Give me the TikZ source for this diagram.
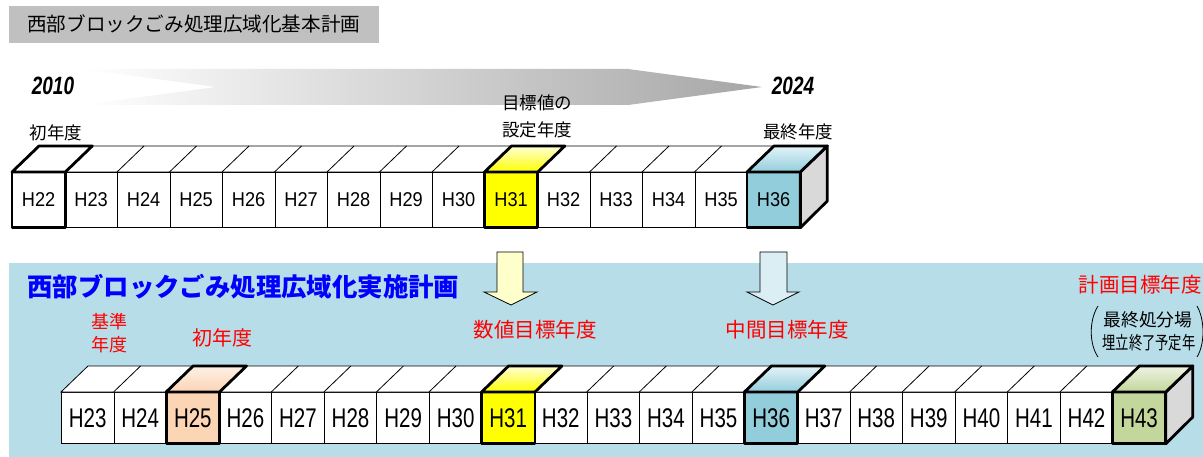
\documentclass[tikz,border=0pt]{standalone}
\usepackage{fontspec}
\setmainfont{Liberation Sans}
\newfontfamily\jp{Noto Sans CJK JP}
\newfontfamily\numa[FakeStretch=0.91]{Liberation Sans}
\newfontfamily\numb[FakeStretch=0.76]{Liberation Sans}
\newfontfamily\yrfont[FakeStretch=0.76]{Liberation Sans}
\definecolor{bgblue}{HTML}{B7DEE8}
\definecolor{aqua}{HTML}{92CDDC}
\definecolor{aqualt}{HTML}{E4F3F7}
\definecolor{peach}{HTML}{FCD5B4}
\definecolor{peachlt}{HTML}{FDF0E6}
\definecolor{olive}{HTML}{C3D69B}
\definecolor{olivelt}{HTML}{EEF3E2}
\definecolor{yel}{HTML}{FFFF00}
\definecolor{yellt}{HTML}{FFFFD8}
\definecolor{sidegray}{HTML}{D9D9D9}
\definecolor{titlegray}{HTML}{C0C0C0}
\definecolor{arrowgray}{HTML}{A6A6A6}
\definecolor{paleyellow}{HTML}{FFFFCC}
\definecolor{paleblue}{HTML}{DBEEF3}
\newcommand\topface[3]{%
  \draw[hl, top color=#3, bottom color=#2] (#1.north west) -- ++(27,-26) -- ([shift={(27,-26)}]#1.north east) -- (#1.north east) -- cycle;
  \draw[hl] (#1.north west) rectangle (#1.south east);
}
\begin{document}
\begin{tikzpicture}[x=1pt,y=-1pt,
  thin line/.style={line width=0.8pt},
  hl/.style={line width=2.8pt, line join=round},
  tbox/.style={draw, thin line, fill=white, minimum width=52.5pt, minimum height=55pt, inner sep=0pt, anchor=north west, font=\numa\fontsize{20}{24}\selectfont},
  bbox/.style={draw, thin line, fill=white, minimum width=52.57pt, minimum height=51pt, inner sep=0pt, anchor=north west, font=\numb\fontsize{27}{30}\selectfont},
  t9/.style={fill=yel}, t14/.style={fill=aqua},
  b2/.style={fill=peach}, b8/.style={fill=yel}, b13/.style={fill=aqua}, b20/.style={fill=olive},
  lbl/.style={font=\jp\fontsize{17.5}{20}\selectfont, inner sep=0pt},
  rlbl/.style={font=\jp\fontsize{20.5}{23}\selectfont, text=red, inner sep=0pt},
  downarrow/.style={draw, thin line, line join=miter}
]
\useasboundingbox (0,0) rectangle (1203,457);
\fill[white] (0,0) rectangle (1203,457);

% top title
\node[fill=titlegray, minimum width=370pt, minimum height=37pt, inner sep=0pt, anchor=north west] (ttlbox) at (9,6) {};
\node[font=\jp\fontsize{19.6}{22}\selectfont, anchor=west, inner sep=0pt] (ttl) at (27,24) {西部ブロックごみ処理広域化基本計画};

% gray time arrow
\shade[left color=white, right color=arrowgray] (82,69) -- (628,69) -- (762,87) -- (628,105) -- (82,105) -- (216,87) -- cycle;
\node[font=\yrfont\bfseries\itshape\fontsize{25}{28}\selectfont, inner sep=0pt] (y2010) at (53,86) {2010};
\node[font=\yrfont\bfseries\itshape\fontsize{25}{28}\selectfont, inner sep=0pt] (y2024) at (793,86) {2024};

% top labels
\node[lbl] (l1) at (56,133) {初年度};
\node[lbl, align=center] (l2a) at (537,103) {目標値の};
\node[lbl, align=center] (l2b) at (537,130) {設定年度};
\node[lbl] (l3) at (798,132) {最終年度};

% top row
\foreach \i in {0,...,14} {
  \pgfmathtruncatemacro\n{22+\i}
  \node[tbox, t\i/.try] (t\i) at ({12+52.5*\i},172) {H\n};
}
\draw[thin line, fill=white] (t0.north west) -- ++(27,-26) -- ([shift={(27,-26)}]t14.north east) -- (t14.north east) -- cycle;
\foreach \i in {1,...,14} \draw[thin line] (t\i.north west) -- ++(27,-26);
\draw[hl, fill=sidegray] (t14.north east) -- ++(27,-26) -- ++(0,55) -- (t14.south east) -- cycle;
\topface{t0}{white}{white}
\topface{t9}{yel}{yellt}
\topface{t14}{aqua}{aqualt}

% blue background
\fill[bgblue] (9,263) rectangle (1203,457);

% down arrows
\draw[downarrow, fill=paleyellow] (497,252) -- (523,252) -- (523,292) -- (537,292) -- (511,305) -- (484,292) -- (497,292) -- cycle;
\draw[downarrow, fill=paleblue] (760,252) -- (787,252) -- (787,292) -- (799,292) -- (773,305) -- (747,292) -- (760,292) -- cycle;

% bottom title
\node[font=\jp\bfseries\fontsize{25.4}{28}\selectfont, text=blue, inner sep=0pt] (btl) at (243.5,287) {西部ブロックごみ処理広域化実施計画};

% red labels
\node[font=\jp\fontsize{18}{20}\selectfont, text=red, inner sep=0pt] (r0a) at (109,322) {基準};
\node[font=\jp\fontsize{18}{20}\selectfont, text=red, inner sep=0pt] (r0b) at (109,345) {年度};
\node[rlbl, font=\jp\fontsize{20}{23}\selectfont] (r1) at (222,338) {初年度};
\node[rlbl] (r2) at (535,330) {数値目標年度};
\node[rlbl] (r3) at (787,330) {中間目標年度};
\node[rlbl] (r4) at (1140,285) {計画目標年度};
\node[lbl, font=\jp\fontsize{17.8}{20}\selectfont] (p1) at (1148,320) {最終処分場};
\node[lbl, font=\jp\fontsize{18}{20}\selectfont] (p2) at (1149,343) {\scalebox{0.74}[1]{埋立終了予定年}};
\draw[thin line] (1098,306) .. controls (1089,320) and (1089,344) .. (1098,357);
\draw[thin line] (1197,306) .. controls (1205,320) and (1205,344) .. (1197,357);

% bottom row
\foreach \i in {0,...,20} {
  \pgfmathtruncatemacro\n{23+\i}
  \node[bbox, b\i/.try] (b\i) at ({61+52.57*\i},392) {H\n};
}
\draw[thin line, fill=white] (b0.north west) -- ++(27,-26) -- ([shift={(27,-26)}]b20.north east) -- (b20.north east) -- cycle;
\foreach \i in {1,...,20} \draw[thin line] (b\i.north west) -- ++(27,-26);
\draw[hl, fill=sidegray] (b20.north east) -- ++(27,-26) -- ++(0,51) -- (b20.south east) -- cycle;
\topface{b2}{peach}{peachlt}
\topface{b8}{yel}{yellt}
\topface{b13}{aqua}{aqualt}
\topface{b20}{olive}{olivelt}
\end{tikzpicture}
\end{document}
